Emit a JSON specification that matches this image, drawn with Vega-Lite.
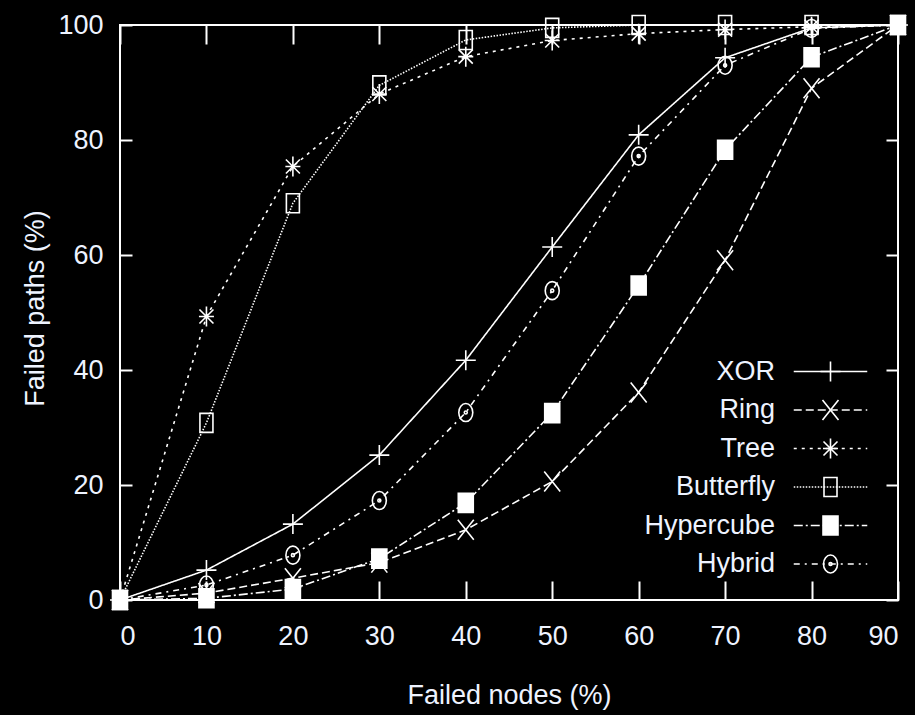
{
  "$schema": "https://vega.github.io/schema/vega-lite/v6.json",
  "width": 778,
  "height": 575,
  "autosize": {"type": "none"},
  "padding": {"left": 120, "top": 25, "right": 17, "bottom": 115},
  "background": "#000000",
  "config": {
    "view": {"stroke": "#ffffff", "strokeWidth": 2},
    "font": "Liberation Sans",
    "axis": {
      "grid": false,
      "domain": false,
      "tickColor": "#ffffff",
      "tickWidth": 2,
      "labelColor": "#eef3ff",
      "labelFont": "Liberation Sans",
      "labelFontSize": 27,
      "titleColor": "#eef3ff",
      "titleFont": "Liberation Sans",
      "titleFontSize": 27,
      "titleFontWeight": "normal"
    }
  },
  "data": {
    "values": [
      {"series": "XOR", "nodes": 0, "paths": 0},
      {"series": "XOR", "nodes": 10, "paths": 5.2},
      {"series": "XOR", "nodes": 20, "paths": 13.2},
      {"series": "XOR", "nodes": 30, "paths": 25.2},
      {"series": "XOR", "nodes": 40, "paths": 41.7},
      {"series": "XOR", "nodes": 50, "paths": 61.4},
      {"series": "XOR", "nodes": 60, "paths": 80.9},
      {"series": "XOR", "nodes": 70, "paths": 94.3},
      {"series": "XOR", "nodes": 80, "paths": 99.5},
      {"series": "XOR", "nodes": 90, "paths": 100},
      {"series": "Ring", "nodes": 0, "paths": 0},
      {"series": "Ring", "nodes": 10, "paths": 1.2},
      {"series": "Ring", "nodes": 20, "paths": 3.8},
      {"series": "Ring", "nodes": 30, "paths": 6.5},
      {"series": "Ring", "nodes": 40, "paths": 12.2},
      {"series": "Ring", "nodes": 50, "paths": 20.6},
      {"series": "Ring", "nodes": 60, "paths": 36.1},
      {"series": "Ring", "nodes": 70, "paths": 59.1},
      {"series": "Ring", "nodes": 80, "paths": 89.0},
      {"series": "Ring", "nodes": 90, "paths": 100},
      {"series": "Tree", "nodes": 0, "paths": 0},
      {"series": "Tree", "nodes": 10, "paths": 49.3},
      {"series": "Tree", "nodes": 20, "paths": 75.4},
      {"series": "Tree", "nodes": 30, "paths": 88.0},
      {"series": "Tree", "nodes": 40, "paths": 94.5},
      {"series": "Tree", "nodes": 50, "paths": 97.3},
      {"series": "Tree", "nodes": 60, "paths": 98.5},
      {"series": "Tree", "nodes": 70, "paths": 99.2},
      {"series": "Tree", "nodes": 80, "paths": 99.7},
      {"series": "Tree", "nodes": 90, "paths": 100},
      {"series": "Butterfly", "nodes": 0, "paths": 0},
      {"series": "Butterfly", "nodes": 10, "paths": 30.8},
      {"series": "Butterfly", "nodes": 20, "paths": 69.0},
      {"series": "Butterfly", "nodes": 30, "paths": 89.5},
      {"series": "Butterfly", "nodes": 40, "paths": 97.4},
      {"series": "Butterfly", "nodes": 50, "paths": 99.5},
      {"series": "Butterfly", "nodes": 60, "paths": 100},
      {"series": "Butterfly", "nodes": 70, "paths": 100},
      {"series": "Butterfly", "nodes": 80, "paths": 100},
      {"series": "Butterfly", "nodes": 90, "paths": 100},
      {"series": "Hypercube", "nodes": 0, "paths": 0},
      {"series": "Hypercube", "nodes": 10, "paths": 0.3},
      {"series": "Hypercube", "nodes": 20, "paths": 1.9},
      {"series": "Hypercube", "nodes": 30, "paths": 7.2},
      {"series": "Hypercube", "nodes": 40, "paths": 16.9},
      {"series": "Hypercube", "nodes": 50, "paths": 32.5},
      {"series": "Hypercube", "nodes": 60, "paths": 54.7},
      {"series": "Hypercube", "nodes": 70, "paths": 78.3},
      {"series": "Hypercube", "nodes": 80, "paths": 94.4},
      {"series": "Hypercube", "nodes": 90, "paths": 100},
      {"series": "Hybrid", "nodes": 0, "paths": 0},
      {"series": "Hybrid", "nodes": 10, "paths": 2.6},
      {"series": "Hybrid", "nodes": 20, "paths": 7.8},
      {"series": "Hybrid", "nodes": 30, "paths": 17.3},
      {"series": "Hybrid", "nodes": 40, "paths": 32.6},
      {"series": "Hybrid", "nodes": 50, "paths": 53.8},
      {"series": "Hybrid", "nodes": 60, "paths": 77.2},
      {"series": "Hybrid", "nodes": 70, "paths": 93.0},
      {"series": "Hybrid", "nodes": 80, "paths": 99.4},
      {"series": "Hybrid", "nodes": 90, "paths": 100}
    ]
  },
  "layer": [
    {
      "mark": {"type": "line", "color": "#ffffff", "strokeWidth": 1.6},
      "encoding": {
        "x": {
          "field": "nodes", "type": "quantitative",
          "scale": {"domain": [0, 90], "nice": false},
          "axis": {
            "orient": "bottom",
            "values": [0, 10, 20, 30, 40, 50, 60, 70, 80, 90],
            "tickSize": -19,
            "labelPadding": 42,
            "title": "Failed nodes (%)",
            "titleX": 389, "titleY": 95, "titleBaseline": "middle"
          }
        },
        "y": {
          "field": "paths", "type": "quantitative",
          "scale": {"domain": [0, 100], "nice": false},
          "axis": {
            "orient": "left",
            "values": [0, 20, 40, 60, 80, 100],
            "tickSize": -12,
            "labelPadding": 29,
            "title": "Failed paths (%)",
            "titleX": -85, "titleY": 283, "titleBaseline": "middle"
          }
        },
        "strokeDash": {
          "field": "series", "type": "nominal",
          "sort": ["XOR", "Ring", "Tree", "Butterfly", "Hypercube", "Hybrid"],
          "scale": {"range": [[1, 0], [8, 4], [3, 5], [1.5, 1.5], [9, 3, 2, 3], [6, 5, 2, 5]]},
          "legend": {
            "title": null,
            "orient": "none",
            "legendX": 697,
            "legendY": 333,
            "direction": "vertical",
            "padding": 0,
            "symbolType": "M-4.9,0L4.9,0",
            "symbolSize": 225,
            "symbolStrokeColor": "#ffffff",
            "symbolStrokeWidth": 1.6,
            "labelAlign": "right",
            "labelOffset": -69,
            "labelFont": "Liberation Sans",
            "labelFontSize": 27,
            "labelColor": "#eef3ff",
            "labelLimit": 400,
            "rowPadding": 10.5
          }
        }
      }
    },
    {
      "mark": {"type": "point", "filled": false, "size": 400, "color": "#ffffff", "strokeWidth": 1.6, "opacity": 1},
      "encoding": {
        "x": {
          "field": "nodes", "type": "quantitative",
          "scale": {"domain": [0, 90], "nice": false},
          "axis": {
            "orient": "top",
            "values": [0, 10, 20, 30, 40, 50, 60, 70, 80, 90],
            "tickSize": -19,
            "labels": false,
            "title": null
          }
        },
        "y": {
          "field": "paths", "type": "quantitative",
          "scale": {"domain": [0, 100], "nice": false},
          "axis": {
            "orient": "right",
            "values": [0, 20, 40, 60, 80, 100],
            "tickSize": -12,
            "labels": false,
            "title": null
          }
        },
        "shape": {
          "field": "series", "type": "nominal",
          "scale": {
            "domain": ["XOR", "Ring", "Tree", "Butterfly", "Hypercube", "Hybrid"],
            "range": [
              "M-1,0L1,0M0,-1L0,1",
              "M-0.8,-1L0.8,1M-0.8,1L0.8,-1",
              "M-0.75,0L0.75,0M0,-1L0,1M-0.7,-0.7L0.7,0.7M-0.7,0.7L0.7,-0.7",
              "M-0.65,-0.95L0.65,-0.95L0.65,0.95L-0.65,0.95Z",
              "M-0.75,-0.95L0.75,-0.95L0.75,0.95L-0.75,0.95ZM-0.75,-0.85L0.75,-0.85M-0.75,-0.75L0.75,-0.75M-0.75,-0.65L0.75,-0.65M-0.75,-0.55L0.75,-0.55M-0.75,-0.45L0.75,-0.45M-0.75,-0.35L0.75,-0.35M-0.75,-0.25L0.75,-0.25M-0.75,-0.15L0.75,-0.15M-0.75,-0.05L0.75,-0.05M-0.75,0.05L0.75,0.05M-0.75,0.15L0.75,0.15M-0.75,0.25L0.75,0.25M-0.75,0.35L0.75,0.35M-0.75,0.45L0.75,0.45M-0.75,0.55L0.75,0.55M-0.75,0.65L0.75,0.65M-0.75,0.75L0.75,0.75M-0.75,0.85L0.75,0.85",
              "M-0.7,0A0.7,0.9 0 1,1 0.7,0A0.7,0.9 0 1,1 -0.7,0ZM-0.15,0A0.15,0.15 0 1,1 0.15,0A0.15,0.15 0 1,1 -0.15,0Z"
            ]
          },
          "legend": {
            "title": null,
            "orient": "none",
            "legendX": 697,
            "legendY": 333,
            "direction": "vertical",
            "padding": 0,
            "symbolSize": 400,
            "symbolStrokeColor": "#ffffff",
            "symbolFillColor": "transparent",
            "symbolStrokeWidth": 1.6,
            "labelExpr": "''",
            "labelFontSize": 27,
            "rowPadding": 10.5
          }
        }
      }
    }
  ],
  "resolve": {"axis": {"x": "independent", "y": "independent"}}
}
